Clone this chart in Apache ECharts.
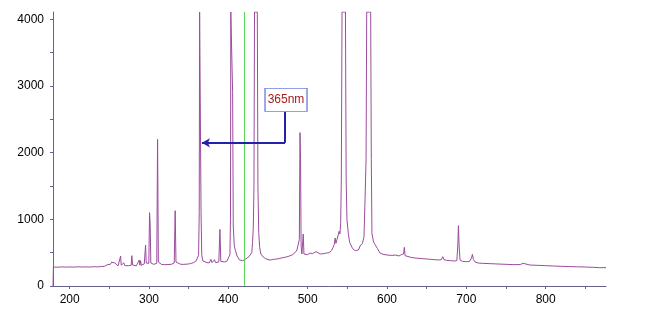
<!DOCTYPE html>
<html>
<head>
<meta charset="utf-8">
<script src="https://cdn.jsdelivr.net/npm/echarts@6/dist/echarts.min.js"></script>
<style>
html,body{margin:0;padding:0;background:#fff;}
#chart{width:660px;height:328px;}
</style>
</head>
<body>
<div id="chart"></div>
<script>
// Spectrum: wavelength (nm) and intensity (counts)
const wavelengths = [
  179, 179.5, 185, 190, 195, 200, 205, 210, 215, 220, 225, 230, 235, 240, 244,
  246.5, 248, 249.5, 251, 253, 255, 257, 259, 261, 263,
  263.5, 264.2, 265, 266.5, 268.3, 269.5, 271, 274, 276, 277.5, 278.4, 279.3, 281, 284, 286.5,
  287.7, 288.5, 289.4, 290.3, 292, 294, 295, 295.7, 296.5, 298, 299.8, 300.7, 301.5, 302.3, 304, 306, 308,
  309.8, 310.8, 311.8, 313, 316, 320, 324, 328, 331.8, 333, 334, 336, 340, 344, 348, 352, 356, 359, 361,
  362.5, 363.3, 363.8, 365, 365.6, 366.5, 368, 370, 373, 376, 378, 379.5, 381, 382.5, 384, 386, 388,
  389.4, 390.5, 392, 395, 398, 400, 402,
  402.7, 403.1, 404.8, 405.4, 406.2, 407.5, 409, 411, 414, 416, 418, 420, 422, 424, 426, 428,
  429.5, 430.5, 431.5, 432.3, 433, 436.5, 437.3, 438.3, 439.5, 441, 444, 447, 450, 453,
  457, 461, 465, 469, 473, 477, 481, 484, 486.5, 488, 489.5, 490.3, 491, 491.7, 492.7, 493.6, 494.4, 495.3,
  497, 500, 503, 504.5, 506, 508, 510.5, 512, 516, 520, 524, 527, 530, 532, 533.5, 534.6, 535.6, 537, 539.6, 540.6,
  541.6, 542.4, 543.3, 547.6, 548.5, 549.5, 551.2, 553, 556.7, 560, 564, 566, 567.8, 569, 571, 572.3, 573.6,
  574.4, 579.4, 580.2, 581, 583, 585, 586.6, 588, 591, 595, 600, 604,
  605.9, 607.5, 609.8, 611, 612, 615, 618, 620.8, 621.8, 622.8, 625, 630, 635, 640, 645, 650, 655, 660, 665,
  668.5, 670.2, 671.8, 675, 680, 685, 688, 689.2, 690, 690.9, 692, 695, 700, 704, 706.5, 707.6, 708.8, 711,
  715, 720, 730, 740, 750, 760, 768, 771.5, 774, 780, 790, 800, 810, 820, 830, 840, 850, 860, 868, 876
];
const intensities = [
  0, 285, 282, 287, 283, 286, 284, 288, 285, 287, 284, 289, 287, 292, 296,
  302, 322, 306, 322, 358, 365, 345, 318, 302, 300,
  305, 450, 312, 300, 348, 305, 300, 304, 300, 310, 455, 315, 300, 303, 306,
  390, 312, 380, 310, 318, 330, 360, 615, 345, 330, 340, 1100, 915, 345, 330, 325, 320,
  340, 2200, 360, 330, 322, 320, 322, 325, 345, 1130, 360, 330, 325, 325, 328, 335, 350, 370, 395,
  460, 1100, 4110, 4110, 1100, 460, 375, 355, 350, 348, 400, 350, 345, 395, 350, 348, 360,
  850, 370, 355, 360, 370, 400, 470,
  1000, 4110, 4110, 2900, 900, 600, 530, 450, 390, 370, 380, 395, 405, 420, 440, 465,
  500, 650, 900, 1500, 4110, 4110, 1500, 800, 580, 480, 435, 410, 395, 390,
  400, 405, 415, 425, 435, 450, 470, 500, 540, 570, 700, 2300, 1900, 600, 480, 500, 780, 480,
  465, 470, 495, 505, 485, 490, 515, 490, 480, 485, 495, 500, 530, 580, 620, 720, 640, 700, 820, 780,
  950, 1600, 4110, 4110, 1600, 1000, 790, 650, 560, 530, 540, 600, 615, 640, 740, 1290, 1900,
  4110, 4110, 1900, 790, 660, 620, 615, 560, 495, 475, 465, 460,
  485, 460, 490, 465, 455, 450, 470, 480, 580, 455, 440, 430, 420, 415, 410, 405, 400, 395, 390,
  395, 440, 395, 385, 380, 375, 380, 600, 905, 600, 390, 370, 365, 370, 420, 475, 400, 360,
  345, 340, 335, 330, 325, 320, 322, 340, 322, 315, 310, 305, 300, 295, 292, 288, 285, 280, 275, 275
];
const xLabelValues = [200, 300, 400, 500, 600, 700, 800];
const xTickValues = [200, 250, 300, 350, 400, 450, 500, 550, 600, 650, 700, 750, 800, 850];
const yLabelValues = [0, 1000, 2000, 3000, 4000];
const yTickValues = [0, 500, 1000, 1500, 2000, 2500, 3000, 3500, 4000];
const markerWavelength = 420.4;
const calloutText = '365nm';
const calloutPoint = [472.7, 2793];
const arrowCorner = [471.4, 2613];
const arrowElbow = [471.4, 2147];
const arrowTip = [366.7, 2147];

const points = wavelengths.map((w, i) => [w, intensities[i]]);
const font = '"Liberation Sans", Arial, sans-serif';
const axisColor = '#62628a';

const chart = echarts.init(document.getElementById('chart'), null, {renderer: 'canvas'});
chart.setOption({
  animation: false,
  backgroundColor: '#ffffff',
  grid: {left: 53, right: 54, top: 12, bottom: 42},
  xAxis: {
    type: 'value', min: 179, max: 876,
    splitLine: {show: false},
    axisLine: {lineStyle: {color: axisColor, width: 1}},
    axisTick: {show: true, customValues: xTickValues, length: 3, lineStyle: {color: axisColor}},
    axisLabel: {customValues: xLabelValues, formatter: v => String(v), color: '#000', fontFamily: font, fontSize: 12, margin: 8}
  },
  yAxis: {
    type: 'value', min: 0, max: 4110,
    splitLine: {show: false},
    axisLine: {show: true, lineStyle: {color: axisColor, width: 1}},
    axisTick: {show: true, customValues: yTickValues, length: 3, lineStyle: {color: axisColor}},
    axisLabel: {customValues: yLabelValues, formatter: v => String(v), color: '#000', fontFamily: font, fontSize: 12, margin: 9}
  },
  series: [{
    type: 'line',
    data: points,
    showSymbol: false,
    symbol: 'none',
    clip: true,
    z: 2,
    lineStyle: {color: '#9a4c9c', width: 1},
    markLine: {
      silent: true,
      symbol: ['none', 'none'],
      label: {show: false},
      animation: false,
      data: [
        [{coord: arrowCorner, lineStyle: {color: '#2222aa', width: 2, type: 'solid'}},
         {coord: arrowElbow}],
        [{coord: arrowElbow, lineStyle: {color: '#2222aa', width: 2, type: 'solid'}},
         {coord: arrowTip, symbol: 'arrow', symbolSize: [7, 8]}]
      ]
    },
    markPoint: {
      silent: true,
      animation: false,
      data: [{
        coord: calloutPoint,
        symbol: 'rect',
        symbolSize: [42, 23],
        itemStyle: {color: '#ffffff', borderColor: '#6f7fe0', borderWidth: 1},
        label: {show: true, position: 'inside', formatter: calloutText, color: '#a81c1c', fontFamily: font, fontSize: 12}
      }]
    }
  }, {
    type: 'line',
    data: [[markerWavelength, 0], [markerWavelength, 4110]],
    showSymbol: false,
    symbol: 'none',
    silent: true,
    z: 3,
    lineStyle: {color: '#55d855', width: 1}
  }]
});
</script>
</body>
</html>
